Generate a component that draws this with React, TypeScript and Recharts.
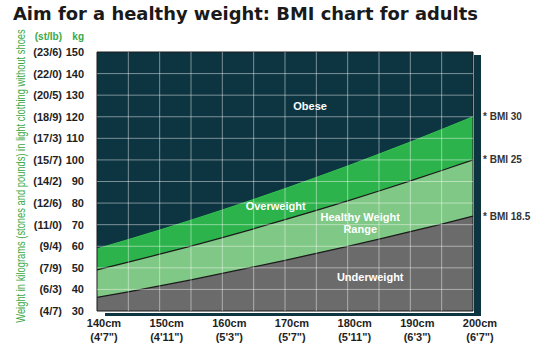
import {
  Area,
  ComposedChart,
  ReferenceArea,
  ReferenceDot,
  ReferenceLine,
  XAxis,
  YAxis,
} from "recharts";

const heights = [140, 145, 150, 155, 160, 165, 170, 175, 180, 185, 190, 195, 200];
const bmi185 = [36.3, 38.9, 41.6, 44.4, 47.4, 50.4, 53.5, 56.7, 59.9, 63.3, 66.8, 70.3, 74];
const bmi25 = [49, 52.6, 56.3, 60.1, 64, 68.1, 72.3, 76.6, 81, 85.6, 90.3, 95.1, 100];
const bmi30 = [58.8, 63.1, 67.5, 72.1, 76.8, 81.7, 86.7, 91.9, 97.2, 102.7, 108.3, 114.1, 120];

const kgTicks = [30, 40, 50, 60, 70, 80, 90, 100, 110, 120, 130, 140, 150];
const stoneLabels = ["(4/7)", "(6/3)", "(7/9)", "(9/4)", "(11/0)", "(12/6)", "(14/2)", "(15/7)", "(17/3)", "(18/9)", "(20/5)", "(22/0)", "(23/6)"];
const cmTicks = [140, 150, 160, 170, 180, 190, 200];
const feetLabels = ["(4'7\")", "(4'11\")", "(5'3\")", "(5'7\")", "(5'11\")", "(6'3\")", "(6'7\")"];
const gridX = [145, 150, 155, 160, 165, 170, 175, 180, 185, 190, 195];
const gridY = [40, 50, 60, 70, 80, 90, 100, 110, 120, 130, 140];

const data = heights.map((h, i) => ({ h, under: bmi185[i], healthy: bmi25[i], over: bmi30[i] }));

const DARK = "#0d3541";
const GREEN = "#2db34b";
const LIGHT = "#80c885";
const GREY = "#6b6b6b";
const LINE = "#1b1b1b";
const GRID = "rgba(255,255,255,0.45)";
const FONT = "'Liberation Sans', Arial, sans-serif";

const YTick = ({ x, y, payload }: any) => {
  const i = kgTicks.indexOf(payload.value);
  return (
    <g fontFamily={FONT} fontWeight="bold" fontSize={11} fill="#1e1e1e">
      <text x={x - 35} y={y} dy="0.36em" textAnchor="end">{stoneLabels[i]}</text>
      <text x={x - 13} y={y} dy="0.36em" textAnchor="end">{payload.value}</text>
    </g>
  );
};

const XTick = ({ x, y, payload }: any) => {
  const i = cmTicks.indexOf(payload.value);
  return (
    <g fontFamily={FONT} fontWeight="bold" fontSize={11} fill="#1e1e1e">
      <text x={x + 7} y={y + 16} textAnchor="middle">{payload.value}cm</text>
      <text x={x + 7} y={y + 30} textAnchor="middle">{feetLabels[i]}</text>
    </g>
  );
};

const bandLabel = (text: string) => ({
  value: text,
  position: "center" as const,
  fill: "#ffffff",
  fontSize: 11,
  fontWeight: "bold",
  fontFamily: FONT,
});

const bmiLabel = (text: string) => ({
  value: text,
  position: "right" as const,
  offset: 10,
  fill: "#333333",
  fontSize: 10,
  fontWeight: "bold",
  fontFamily: FONT,
});

export default function App() {
  const last = heights.length - 1;
  return (
    <div style={{ position: "absolute", left: 0, top: 0, width: 550, height: 350, background: "#fff" }}>
      <svg width={550} height={350} style={{ position: "absolute", left: 0, top: 0 }}>
        <rect x={105} y={55} width={376} height={261} fill={DARK} />
        <rect x={95} y={50} width={379} height={263} fill="#ffffff" />
        <text x={13} y={20} fontFamily="'DejaVu Sans', Verdana, sans-serif" fontWeight="bold" fontSize={17} fill="#1a1a1a" textLength={465} lengthAdjust="spacingAndGlyphs">
          Aim for a healthy weight: BMI chart for adults
        </text>
        <text x={62} y={40} textAnchor="end" fontFamily={FONT} fontWeight="bold" fontSize={10} fill="#3aa845">(st/lb)</text>
        <text x={84} y={40} textAnchor="end" fontFamily={FONT} fontWeight="bold" fontSize={10} fill="#3aa845">kg</text>
        <text
          transform="translate(25,176) rotate(-90) scale(0.78,1)"
          textAnchor="middle"
          fontFamily={FONT}
          fontSize={12}
          fill="#3aa845"
        >
          Weight in kilograms (stones and pounds) in light clothing without shoes
        </text>
      </svg>
      <div style={{ position: "absolute", left: 0, top: 0 }}>
        <ComposedChart width={550} height={350} data={data} margin={{ top: 52, right: 77, bottom: 9, left: 12 }}>
          <XAxis
            dataKey="h"
            type="number"
            domain={[140, 200]}
            ticks={cmTicks}
            tick={<XTick />}
            tickLine={false}
            axisLine={false}
            tickSize={0}
            tickMargin={0}
            height={30}
            interval={0}
          />
          <YAxis
            type="number"
            domain={[30, 150]}
            ticks={kgTicks}
            tick={<YTick />}
            tickLine={false}
            axisLine={false}
            tickSize={0}
            tickMargin={0}
            width={85}
            interval={0}
            allowDataOverflow
          />
          <ReferenceArea x1={140} x2={200} y1={30} y2={150} fill={DARK} fillOpacity={1} stroke="none" />
          <Area dataKey="over" type="linear" fill={GREEN} fillOpacity={1} stroke="#35c052" strokeWidth={1} isAnimationActive={false} />
          <Area dataKey="healthy" type="linear" fill={LIGHT} fillOpacity={1} stroke={LINE} strokeWidth={1.3} isAnimationActive={false} />
          <Area dataKey="under" type="linear" fill={GREY} fillOpacity={1} stroke={LINE} strokeWidth={1.3} isAnimationActive={false} />
          {gridX.map((v) => (
            <ReferenceLine key={"x" + v} x={v} stroke={GRID} strokeWidth={1} />
          ))}
          {gridY.map((v) => (
            <ReferenceLine key={"y" + v} y={v} stroke={GRID} strokeWidth={1} />
          ))}
          <ReferenceArea x1={140} x2={200} y1={30} y2={150} fill="none" stroke={LINE} strokeWidth={1} />
          <ReferenceDot x={174} y={125} r={0} stroke="none" label={bandLabel("Obese")} />
          <ReferenceDot x={168.5} y={78.5} r={0} stroke="none" label={bandLabel("Overweight")} />
          <ReferenceDot x={182} y={73.6} r={0} stroke="none" label={bandLabel("Healthy Weight")} />
          <ReferenceDot x={182} y={68} r={0} stroke="none" label={bandLabel("Range")} />
          <ReferenceDot x={183.6} y={45.8} r={0} stroke="none" label={bandLabel("Underweight")} />
          <ReferenceDot x={heights[last]} y={bmi30[last]} r={0} stroke="none" ifOverflow="visible" label={bmiLabel("* BMI 30")} />
          <ReferenceDot x={heights[last]} y={bmi25[last]} r={0} stroke="none" ifOverflow="visible" label={bmiLabel("* BMI 25")} />
          <ReferenceDot x={heights[last]} y={bmi185[last]} r={0} stroke="none" ifOverflow="visible" label={bmiLabel("* BMI 18.5")} />
        </ComposedChart>
      </div>
    </div>
  );
}
